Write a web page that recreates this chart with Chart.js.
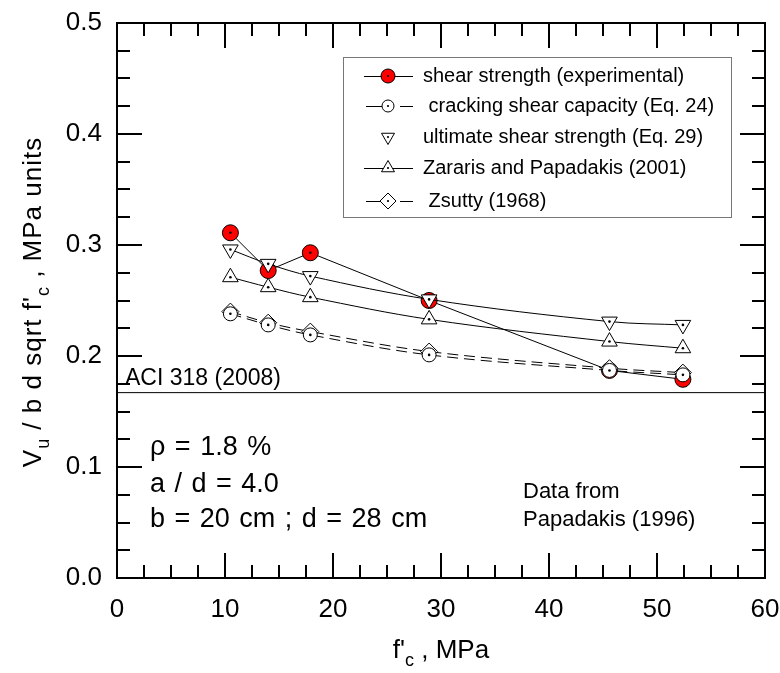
<!DOCTYPE html>
<html>
<head>
<meta charset="utf-8">
<script src="https://cdn.jsdelivr.net/npm/chart.js@4.4.1/dist/chart.umd.min.js"></script>
<style>
  html, body { margin: 0; padding: 0; background: #fff; }
</style>
</head>
<body>
<canvas id="grafico" width="780" height="673"></canvas>
<script>
// dados (f'c em MPa, Vu / b d sqrt f'c)
const fc           = [10.5, 14.0, 17.9, 28.9, 45.6, 52.4]
const experimental = [0.311, 0.277, 0.293, 0.250, 0.187, 0.179]
const cracking     = [0.238, 0.228, 0.219, 0.201, 0.187, 0.183]
const ultimate     = [0.296, 0.283, 0.272, 0.251, 0.231, 0.228]
const zararis      = [0.271, 0.262, 0.253, 0.233, 0.213, 0.207]
const zsutty       = [0.240, 0.230, 0.222, 0.204, 0.189, 0.185]
const aciX         = [0, 60]
const aciY         = [0.167, 0.167]

const xTicks = [0, 10, 20, 30, 40, 50, 60]
const yTicks = [0.0, 0.1, 0.2, 0.3, 0.4, 0.5]

const FONTE = "'Liberation Sans', Arial, sans-serif"

const pts = ys => fc.map((x, i) => ({ x, y: ys[i] }))

// ticks para dentro nos quatro lados + moldura
const moldura = {
  id: "moldura",
  afterDraw(chart) {
    const { ctx, chartArea: a, scales: { x, y } } = chart
    ctx.save()
    ctx.strokeStyle = "#000"
    ctx.lineWidth = 2
    ctx.beginPath()
    for (let v = 0; v <= 60.001; v += 2.5) {
      const len = Math.abs(v % 10) < 1e-6 ? 25 : 13
      const px = Math.round(x.getPixelForValue(v))
      ctx.moveTo(px, a.bottom); ctx.lineTo(px, a.bottom - len)
      ctx.moveTo(px, a.top);    ctx.lineTo(px, a.top + len)
    }
    for (let i = 0; i <= 20; i++) {
      const v = i * 0.025
      const len = i % 4 === 0 ? 25 : 13
      const py = Math.round(y.getPixelForValue(v))
      ctx.moveTo(a.left, py);  ctx.lineTo(a.left + len, py)
      ctx.moveTo(a.right, py); ctx.lineTo(a.right - len, py)
    }
    ctx.stroke()
    ctx.strokeRect(a.left, a.top, a.right - a.left, a.bottom - a.top)
    ctx.restore()
  }
}

// pontinho preto no centro de cada marcador
const pontoCentral = {
  id: "pontoCentral",
  afterDatasetDraw(chart, args) {
    const ds = chart.data.datasets[args.index]
    if (!ds.pointRadius) return
    const ctx = chart.ctx
    ctx.save()
    ctx.fillStyle = "#000"
    args.meta.data.forEach(p => {
      ctx.beginPath(); ctx.arc(p.x, p.y, 1.3, 0, Math.PI * 2); ctx.fill()
    })
    ctx.restore()
  }
}

function textoComSub(ctx, partes, x, y, tam) {
  // partes: [texto, ehSubscrito]
  let cx = x
  partes.forEach(([t, sub]) => {
    ctx.font = `${sub ? Math.round(tam * 0.7) : tam}px ${FONTE}`
    ctx.fillText(t, cx, sub ? y + tam * 0.3 : y)
    cx += ctx.measureText(t).width
  })
  return cx - x
}

function larguraSub(ctx, partes, tam) {
  let w = 0
  partes.forEach(([t, sub]) => {
    ctx.font = `${sub ? Math.round(tam * 0.7) : tam}px ${FONTE}`
    w += ctx.measureText(t).width
  })
  return w
}

const textos = {
  id: "textos",
  afterDraw(chart) {
    const ctx = chart.ctx
    ctx.save()
    ctx.fillStyle = "#000"
    ctx.textBaseline = "alphabetic"
    ctx.textAlign = "left"

    ctx.font = `23px ${FONTE}`
    ctx.fillText("ACI 318 (2008)", 125, 385)

    ctx.font = `27px ${FONTE}`
    ctx.wordSpacing = "2px"
    ctx.fillText("\u03c1 = 1.8 %", 150, 455)
    ctx.fillText("a / d = 4.0", 150, 492)
    ctx.fillText("b = 20 cm ; d = 28 cm", 150, 527)
    ctx.wordSpacing = "0px"

    ctx.font = `22px ${FONTE}`
    ctx.fillText("Data from", 523, 498)
    ctx.fillText("Papadakis (1996)", 523, 526)

    // titulo eixo x
    const tx = [["f'", false], ["c", true], [" , MPa", false]]
    const wx = larguraSub(ctx, tx, 26)
    textoComSub(ctx, tx, 441 - wx / 2, 658, 26)

    // titulo eixo y
    const ty = [["V", false], ["u", true], [" / b d sqrt f'", false], ["c", true], [" , MPa units", false]]
    ctx.letterSpacing = "1px"
    const wy = larguraSub(ctx, ty, 26)
    ctx.translate(41, 302)
    ctx.rotate(-Math.PI / 2)
    textoComSub(ctx, ty, -wy / 2, 0, 26)
    ctx.letterSpacing = "0px"
    ctx.restore()
  }
}

// legenda dentro da area do grafico
const legenda = {
  id: "legenda",
  afterDraw(chart) {
    const ctx = chart.ctx
    const caixa = { x: 343, y: 57, w: 388, h: 160 }
    ctx.save()
    ctx.fillStyle = "#fff"
    ctx.fillRect(caixa.x, caixa.y, caixa.w, caixa.h)
    ctx.strokeStyle = "#777"
    ctx.lineWidth = 1
    ctx.strokeRect(caixa.x + 0.5, caixa.y + 0.5, caixa.w, caixa.h)

    const linhasY = [76, 106, 137, 168, 201]
    const itens = chart.data.datasets.filter(d => d.legenda)
    itens.forEach((ds, i) => {
      const yy = linhasY[i]
      if (ds.linhaLegenda !== false) {
        ctx.strokeStyle = "#000"
        ctx.lineWidth = 1
        ctx.setLineDash(ds.borderDash && ds.borderDash.length ? [16, 18] : [])
        ctx.beginPath()
        ctx.moveTo(ds.borderDash && ds.borderDash.length ? 366 : 364, yy + 0.5)
        ctx.lineTo(413, yy + 0.5)
        ctx.stroke()
        ctx.setLineDash([])
      }
      ctx.fillStyle = ds.pointBackgroundColor
      ctx.strokeStyle = "#000"
      ctx.lineWidth = 1
      Chart.helpers.drawPoint(ctx, {
        pointStyle: ds.pointStyle, rotation: ds.pointRotation || 0,
        radius: ds.raioLegenda, borderWidth: 1
      }, 388, yy)
      ctx.fillStyle = "#000"
      ctx.beginPath(); ctx.arc(388, yy, 1.1, 0, Math.PI * 2); ctx.fill()

      ctx.font = `20px ${FONTE}`
      ctx.textBaseline = "middle"
      ctx.fillText(ds.legenda, 423, yy)
    })
    ctx.restore()
  }
}

const base = { borderColor: "#000", borderWidth: 1, pointBorderColor: "#000", pointBorderWidth: 1, fill: false }

new Chart(document.getElementById("grafico").getContext("2d"), {
  type: "line",
  data: {
    datasets: [
      { ...base, legenda: "shear strength (experimental)", data: pts(experimental),
        pointStyle: "circle", pointRadius: 8, raioLegenda: 7, pointBackgroundColor: "#ff0000",
        tension: 0, order: 5 },
      { ...base, legenda: " cracking shear capacity (Eq. 24)", data: pts(cracking),
        pointStyle: "circle", pointRadius: 7, raioLegenda: 6, pointBackgroundColor: "#fff",
        borderDash: [11, 6], tension: 0.35, order: 1 },
      { ...base, legenda: "ultimate shear strength (Eq. 29)", data: pts(ultimate),
        pointStyle: "triangle", pointRotation: 180, pointRadius: 9, raioLegenda: 7.5,
        pointBackgroundColor: "#fff", linhaLegenda: false, tension: 0.35, order: 2 },
      { ...base, legenda: "Zararis and Papadakis (2001)", data: pts(zararis),
        pointStyle: "triangle", pointRadius: 9, raioLegenda: 7.5, pointBackgroundColor: "#fff",
        tension: 0.35, order: 3 },
      { ...base, legenda: " Zsutty (1968)", data: pts(zsutty),
        pointStyle: "rectRot", pointRadius: 8.5, raioLegenda: 8, pointBackgroundColor: "#fff",
        borderDash: [11, 6], tension: 0.35, order: 4 },
      { ...base, data: aciX.map((x, i) => ({ x, y: aciY[i] })), pointRadius: 0, tension: 0, order: 6 }
    ]
  },
  options: {
    responsive: false,
    animation: false,
    devicePixelRatio: 1,
    layout: { padding: { left: 0, top: 23, right: 15, bottom: 0 } },
    plugins: { legend: { display: false }, tooltip: { enabled: false } },
    scales: {
      x: {
        type: "linear", min: 0, max: 60,
        afterFit: s => { s.height = 95; s.paddingLeft = 0; s.paddingRight = 0 },
        afterBuildTicks: s => { s.ticks = xTicks.map(v => ({ value: v })) },
        grid: { display: false, drawTicks: false },
        border: { display: false },
        ticks: { color: "#000", padding: 16, maxRotation: 0, font: { family: FONTE, size: 26 } }
      },
      y: {
        type: "linear", min: 0, max: 0.5,
        afterFit: s => { s.width = 117; s.paddingTop = 0; s.paddingBottom = 0 },
        afterBuildTicks: s => { s.ticks = yTicks.map(v => ({ value: v })) },
        grid: { display: false, drawTicks: false },
        border: { display: false },
        ticks: { color: "#000", padding: 15, font: { family: FONTE, size: 26 }, callback: v => v.toFixed(1) }
      }
    }
  },
  plugins: [pontoCentral, moldura, textos, legenda]
})
</script>
</body>
</html>
